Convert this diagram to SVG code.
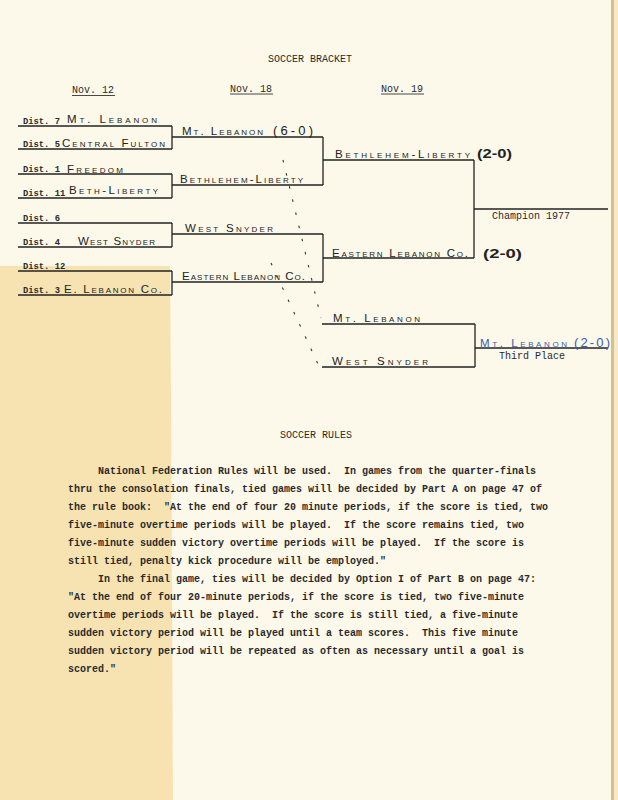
<svg xmlns="http://www.w3.org/2000/svg" width="618" height="800" viewBox="0 0 618 800">
<style>
.ty{font-family:"Liberation Mono","Courier New",monospace;font-size:10px;fill:#2a2a2a;font-weight:bold;white-space:pre}
.tr{font-family:"Liberation Mono","Courier New",monospace;font-size:10px;fill:#2a2a2a}
.ds{font-family:"Liberation Mono","Courier New",monospace;font-size:8.8px;fill:#2a2a2a;font-weight:bold}
.hw{font-family:"Liberation Sans",Arial,sans-serif;font-size:11.5px;font-variant:small-caps;fill:#222}
.sc{font-family:"Liberation Sans",Arial,sans-serif;font-size:13px;font-weight:bold;fill:#222}
.bl{fill:#3a5cb4}
.ln{stroke:#222;stroke-width:1.3;fill:none}
.ul{stroke:#333;stroke-width:0.9;fill:none}
.dot{stroke:#333;stroke-width:1.1;fill:none;stroke-dasharray:2.5 11}
</style>
<rect x="0" y="0" width="618" height="800" fill="#fcf9ea"/>
<polygon points="0,266 170,266 171,400 172,600 173,800 0,800" fill="#f7e3b2"/>
<rect x="611" y="0" width="3" height="800" fill="#d9c186"/>
<rect x="614" y="0" width="4" height="800" fill="#f4eacb"/>

<g id="headings">
<text class="tr" x="268" y="62">SOCCER BRACKET</text>
<text class="tr" x="72" y="93">Nov. 12</text><line class="ul" x1="72" y1="95.5" x2="115" y2="95.5"/>
<text class="tr" x="230" y="91.5">Nov. 18</text><line class="ul" x1="230" y1="94" x2="273" y2="94"/>
<text class="tr" x="381" y="91.5">Nov. 19</text><line class="ul" x1="381" y1="94" x2="424" y2="94"/>
</g>

<g id="r1-s1"><line class="ln" x1="18" y1="126" x2="172" y2="126"/><text class="ds" x="23" y="123.5">Dist. 7</text><text class="hw" x="67" y="123" textLength="90" lengthAdjust="spacing">Mt. Lebanon</text></g>
<g id="r1-s2"><line class="ln" x1="18" y1="149" x2="172" y2="149"/><text class="ds" x="23" y="146.5">Dist. 5</text><text class="hw" x="62" y="146.5" textLength="103" lengthAdjust="spacing">Central Fulton</text></g>
<g id="r1-s3"><line class="ln" x1="18" y1="174" x2="172" y2="174"/><text class="ds" x="23" y="171.5">Dist. 1</text><text class="hw" x="67" y="172.5" textLength="56" lengthAdjust="spacing">Freedom</text></g>
<g id="r1-s4"><line class="ln" x1="18" y1="198" x2="172" y2="198"/><text class="ds" x="23" y="195.5">Dist. 11</text><text class="hw" x="69" y="194" textLength="89" lengthAdjust="spacing">Beth-Liberty</text></g>
<g id="r1-s5"><line class="ln" x1="18" y1="223" x2="172" y2="223"/><text class="ds" x="23" y="220.5">Dist. 6</text></g>
<g id="r1-s6"><line class="ln" x1="18" y1="247" x2="172" y2="247"/><text class="ds" x="23" y="244.5">Dist. 4</text><text class="hw" x="78" y="245" textLength="77" lengthAdjust="spacing">West Snyder</text></g>
<g id="r1-s7"><line class="ln" x1="18" y1="271" x2="172" y2="271"/><text class="ds" x="23" y="268.5">Dist. 12</text></g>
<g id="r1-s8"><line class="ln" x1="18" y1="295" x2="172" y2="295"/><text class="ds" x="23" y="292.5">Dist. 3</text><text class="hw" x="64" y="293" textLength="98" lengthAdjust="spacing">E. Lebanon Co.</text></g>

<g id="r2-s1"><line class="ln" x1="172" y1="137" x2="323" y2="137"/><text class="hw" x="182" y="135" textLength="81" lengthAdjust="spacing">Mt. Lebanon</text><text class="hw" x="273" y="135" textLength="40" lengthAdjust="spacing" style="font-size:13px">(6-0)</text></g>
<g id="r2-s2"><line class="ln" x1="172" y1="185" x2="323" y2="185"/><text class="hw" x="180" y="183" textLength="123" lengthAdjust="spacing">Bethlehem-Liberty</text></g>
<g id="r2-s3"><line class="ln" x1="172" y1="234" x2="323" y2="234"/><text class="hw" x="185" y="232" textLength="88" lengthAdjust="spacing">West Snyder</text></g>
<g id="r2-s4"><line class="ln" x1="172" y1="282" x2="323" y2="282"/><text class="hw" x="182" y="280" textLength="123" lengthAdjust="spacing">Eastern Lebanon Co.</text></g>

<g id="r3-s1"><line class="ln" x1="323" y1="160" x2="474" y2="160"/><text class="hw" x="335" y="158" textLength="135" lengthAdjust="spacing">Bethlehem-Liberty</text><text class="sc" x="477" y="158" textLength="35" lengthAdjust="spacingAndGlyphs">(2-0)</text></g>
<g id="r3-s2"><line class="ln" x1="323" y1="258" x2="474" y2="258"/><text class="hw" x="332" y="256.5" textLength="136" lengthAdjust="spacing">Eastern Lebanon Co.</text><text class="sc" x="483" y="258" textLength="39" lengthAdjust="spacingAndGlyphs">(2-0)</text></g>
<g id="r3-s3"><line class="ln" x1="322" y1="324" x2="475" y2="324"/><text class="hw" x="333" y="322" textLength="87" lengthAdjust="spacing">Mt. Lebanon</text></g>
<g id="r3-s4"><line class="ln" x1="322" y1="367" x2="475" y2="367"/><text class="hw" x="332" y="365" textLength="96" lengthAdjust="spacing">West Snyder</text></g>

<g id="champion"><line class="ln" x1="474" y1="209" x2="608" y2="209"/><text class="tr" x="492" y="219">Champion 1977</text></g>
<g id="third-place"><line class="ln" x1="475" y1="348" x2="608" y2="348"/><text class="hw bl" x="480" y="347" textLength="87" lengthAdjust="spacing">Mt. Lebanon</text><text class="hw bl" x="574" y="347" textLength="36" lengthAdjust="spacing" style="font-size:13px">(2-0)</text><text class="tr" x="499" y="359">Third Place</text></g>

<g id="connectors">
<path class="ln" d="M172,126V149M172,174V198M172,223V247M172,271V295M323,137V185M323,234V282M474,160V258M475,324V367"/>
<path class="dot" d="M283,160L321,318"/>
<path class="dot" d="M271,263L318,364"/>
</g>

<g id="rules">
<text class="tr" x="280" y="438">SOCCER RULES</text>
<text class="ty" x="98" y="474">National Federation Rules will be used.  In games from the quarter-finals</text>
<text class="ty" x="68" y="492">thru the consolation finals, tied games will be decided by Part A on page 47 of</text>
<text class="ty" x="68" y="510">the rule book:  "At the end of four 20 minute periods, if the score is tied, two</text>
<text class="ty" x="68" y="528">five-minute overtime periods will be played.  If the score remains tied, two</text>
<text class="ty" x="68" y="546">five-minute sudden victory overtime periods will be played.  If the score is</text>
<text class="ty" x="68" y="564">still tied, penalty kick procedure will be employed."</text>
<text class="ty" x="98" y="582">In the final game, ties will be decided by Option I of Part B on page 47:</text>
<text class="ty" x="68" y="600">"At the end of four 20-minute periods, if the score is tied, two five-minute</text>
<text class="ty" x="68" y="618">overtime periods will be played.  If the score is still tied, a five-minute</text>
<text class="ty" x="68" y="636">sudden victory period will be played until a team scores.  This five minute</text>
<text class="ty" x="68" y="654">sudden victory period will be repeated as often as necessary until a goal is</text>
<text class="ty" x="68" y="672">scored."</text>
</g>
</svg>
